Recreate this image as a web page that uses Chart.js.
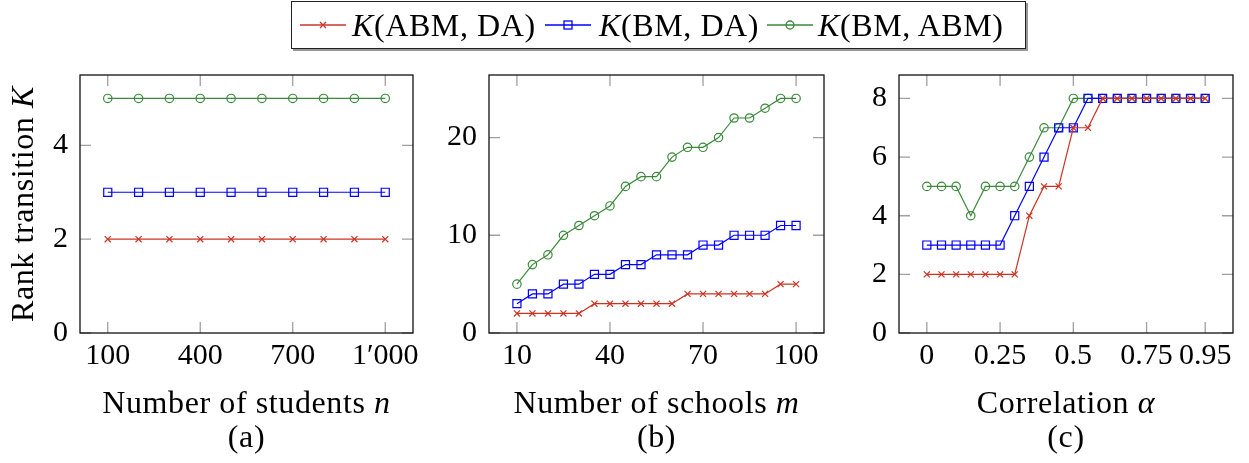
<!DOCTYPE html>
<html><head><meta charset="utf-8">
<script src="https://cdn.jsdelivr.net/npm/chart.js@4.4.0/dist/chart.umd.min.js"></script>
<style>
html,body{margin:0;padding:0;background:#fff;}
#wrap{position:relative;width:1249px;height:463px;overflow:hidden;background:#fff;}
canvas{position:absolute;top:0;}
#legend{position:absolute;left:291px;top:1px;width:733px;height:46px;border:1px solid #222;box-shadow:2px 2px 0 #999;background:#fff;font-family:"Liberation Serif",serif;font-size:32px;letter-spacing:0.6px;color:#000;}
.smp{position:absolute;top:11px;}
.txt{position:absolute;top:0;height:46px;line-height:46px;white-space:nowrap;}
</style></head>
<body>
<div id="wrap">
<canvas id="cA" width="420" height="463" style="left:0px"></canvas>
<canvas id="cB" width="420" height="463" style="left:420px"></canvas>
<canvas id="cC" width="409" height="463" style="left:840px"></canvas>
<div id="legend">
  <svg class="smp" style="left:8px" width="46" height="24"><line x1="0" y1="12" x2="46" y2="12" stroke="#c8382a" stroke-width="1.3"/><path d="M20 9 L26 15 M26 9 L20 15" stroke="#c8382a" stroke-width="1.3"/></svg>
  <span class="txt" style="left:60px"><i>K</i>(ABM, DA)</span>
  <svg class="smp" style="left:253px" width="46" height="24"><line x1="0" y1="12" x2="46" y2="12" stroke="#0000ff" stroke-width="1.3"/><rect x="19" y="8" width="8" height="8" fill="none" stroke="#0000ff" stroke-width="1.3"/></svg>
  <span class="txt" style="left:307px"><i>K</i>(BM, DA)</span>
  <svg class="smp" style="left:475px" width="46" height="24"><line x1="0" y1="12" x2="46" y2="12" stroke="#3a8a3a" stroke-width="1.3"/><circle cx="23" cy="12" r="4" fill="none" stroke="#3a8a3a" stroke-width="1.3"/></svg>
  <span class="txt" style="left:526px"><i>K</i>(BM, ABM)</span>
</div>
</div>
<script>
// ---- data ----
const seriesNames = ['K(ABM, DA)', 'K(BM, DA)', 'K(BM, ABM)'];
const seriesColors = ['#cc3322', '#0000ff', '#3a8a3a'];

const nStudents = [100, 200, 300, 400, 500, 600, 700, 800, 900, 1000];
const a_ABM_DA = [2, 2, 2, 2, 2, 2, 2, 2, 2, 2];
const a_BM_DA  = [3, 3, 3, 3, 3, 3, 3, 3, 3, 3];
const a_BM_ABM = [5, 5, 5, 5, 5, 5, 5, 5, 5, 5];

const mSchools = [10, 15, 20, 25, 30, 35, 40, 45, 50, 55, 60, 65, 70, 75, 80, 85, 90, 95, 100];
const b_ABM_DA = [2, 2, 2, 2, 2, 3, 3, 3, 3, 3, 3, 4, 4, 4, 4, 4, 4, 5, 5];
const b_BM_DA  = [3, 4, 4, 5, 5, 6, 6, 7, 7, 8, 8, 8, 9, 9, 10, 10, 10, 11, 11];
const b_BM_ABM = [5, 7, 8, 10, 11, 12, 13, 15, 16, 16, 18, 19, 19, 20, 22, 22, 23, 24, 24];

const alphaVals = [0, 0.05, 0.1, 0.15, 0.2, 0.25, 0.3, 0.35, 0.4, 0.45, 0.5, 0.55, 0.6, 0.65, 0.7, 0.75, 0.8, 0.85, 0.9, 0.95];
const c_ABM_DA = [2, 2, 2, 2, 2, 2, 2, 4, 5, 5, 7, 7, 8, 8, 8, 8, 8, 8, 8, 8];
const c_BM_DA  = [3, 3, 3, 3, 3, 3, 4, 5, 6, 7, 7, 8, 8, 8, 8, 8, 8, 8, 8, 8];
const c_BM_ABM = [5, 5, 5, 4, 5, 5, 5, 6, 7, 7, 8, 8, 8, 8, 8, 8, 8, 8, 8, 8];

const xTicksA = [100, 400, 700, 1000];
const xTickLabelsA = ['100', '400', '700', '1\u2032000'];
const yTicksA = [0, 2, 4];
const xTicksB = [10, 40, 70, 100];
const xTickLabelsB = ['10', '40', '70', '100'];
const yTicksB = [0, 10, 20];
const xTicksC = [0, 0.25, 0.5, 0.75, 0.95];
const xTickLabelsC = ['0', '0.25', '0.5', '0.75', '0.95'];
const yTicksC = [0, 2, 4, 6, 8];

// ---- drawing helpers ----
const FAM = '"Liberation Serif", serif';
const FS = 30;      // tick labels
const TS = 32;      // titles
function richText(ctx, segs, cx, baseY, size) {
  ctx.letterSpacing = '0.6px';
  let total = 0;
  segs.forEach(s => { ctx.font = (s[1] ? 'italic ' : '') + size + 'px ' + FAM; s.w = ctx.measureText(s[0]).width; total += s.w; });
  let x = cx - total / 2;
  ctx.textBaseline = 'alphabetic';
  ctx.textAlign = 'left';
  ctx.fillStyle = '#000';
  segs.forEach(s => { ctx.font = (s[1] ? 'italic ' : '') + size + 'px ' + FAM; ctx.fillText(s[0], x, baseY); x += s.w; });
  ctx.letterSpacing = '0px';
}

const framePlugin = {
  id: 'frame',
  beforeDatasetsDraw(chart) {
    const ctx = chart.ctx, a = chart.chartArea, cfg = chart.options.plugins.frame;
    const xs = chart.scales.x, ys = chart.scales.y;
    ctx.save();
    ctx.strokeStyle = '#a0a0a0';
    ctx.lineWidth = 1.3;
    const L = 11;
    ctx.beginPath();
    cfg.xTicks.forEach(v => {
      const px = xs.getPixelForValue(v);
      ctx.moveTo(px, a.bottom); ctx.lineTo(px, a.bottom - L);
      ctx.moveTo(px, a.top); ctx.lineTo(px, a.top + L);
    });
    cfg.yTicks.forEach(v => {
      const py = ys.getPixelForValue(v);
      ctx.moveTo(a.left, py); ctx.lineTo(a.left + L, py);
      ctx.moveTo(a.right, py); ctx.lineTo(a.right - L, py);
    });
    ctx.stroke();
    ctx.restore();
  },
  afterDraw(chart) {
    const ctx = chart.ctx, a = chart.chartArea, cfg = chart.options.plugins.frame;
    ctx.save();
    ctx.strokeStyle = '#111';
    ctx.lineWidth = 1.3;
    ctx.strokeRect(a.left, a.top, a.right - a.left, a.bottom - a.top);
    const cx = (a.left + a.right) / 2;
    richText(ctx, cfg.xTitle, cx, 413, TS);
    richText(ctx, [[cfg.caption, false]], cx, 447, TS);
    if (cfg.yTitle) {
      ctx.save();
      ctx.translate(33, (a.top + a.bottom) / 2);
      ctx.rotate(-Math.PI / 2);
      richText(ctx, cfg.yTitle, 0, 0, TS);
      ctx.restore();
    }
    ctx.restore();
  }
};

function makeChart(id, xs, ys3, o) {
  const styles = [
    { pointStyle: 'crossRot', pointRadius: 4.3 },
    { pointStyle: 'rect', pointRadius: 5.7 },
    { pointStyle: 'circle', pointRadius: 4.2 }
  ];
  const datasets = ys3.map((ys, i) => ({
    label: seriesNames[i],
    data: xs.map((x, j) => ({ x: x, y: ys[j] })),
    borderColor: seriesColors[i],
    backgroundColor: seriesColors[i],
    pointBorderColor: seriesColors[i],
    pointBackgroundColor: 'rgba(0,0,0,0)',
    borderWidth: 1.2,
    pointBorderWidth: 1.2,
    pointStyle: styles[i].pointStyle,
    pointRadius: styles[i].pointRadius,
    tension: 0,
    fill: false
  }));
  const tickFont = { family: FAM, size: FS };
  return new Chart(document.getElementById(id), {
    type: 'line',
    data: { datasets },
    options: {
      responsive: false,
      animation: false,
      events: [],
      layout: { padding: { top: 75, right: o.padR, left: 0, bottom: 0 } },
      plugins: {
        legend: { display: false },
        tooltip: { enabled: false },
        frame: { xTicks: o.xTicks, yTicks: o.yTicks, xTitle: o.xTitle, yTitle: o.yTitle, caption: o.caption }
      },
      scales: {
        x: {
          type: 'linear', min: o.xMin, max: o.xMax,
          grid: { display: false, drawTicks: false },
          border: { display: false },
          ticks: {
            font: tickFont, color: '#000', padding: 5, maxRotation: 0, minRotation: 0, autoSkip: false,
            callback: (v) => { const k = o.xTicks.indexOf(v); return k >= 0 ? o.xLabels[k] : ''; }
          },
          afterBuildTicks: s => { s.ticks = o.xTicks.map(v => ({ value: v })); },
          afterFit: s => { s.height = 130; s.paddingLeft = 0; s.paddingRight = 0; }
        },
        y: {
          type: 'linear', min: 0, max: o.yMax,
          grid: { display: false, drawTicks: false },
          border: { display: false },
          ticks: { font: tickFont, color: '#000', padding: 12, autoSkip: false },
          afterBuildTicks: s => { s.ticks = o.yTicks.map(v => ({ value: v })); },
          afterFit: s => { s.width = o.left; s.paddingTop = 0; s.paddingBottom = 0; }
        }
      }
    },
    plugins: [framePlugin]
  });
}

makeChart('cA', nStudents, [a_ABM_DA, a_BM_DA, a_BM_ABM], {
  left: 80, padR: 7, xMin: 10, xMax: 1090, yMax: 5.5,
  xTicks: xTicksA, xLabels: xTickLabelsA, yTicks: yTicksA,
  xTitle: [['Number of students ', false], ['n', true]],
  yTitle: [['Rank transition ', false], ['K', true]],
  caption: '(a)'
});
makeChart('cB', mSchools, [b_ABM_DA, b_BM_DA, b_BM_ABM], {
  left: 69, padR: 16, xMin: 1, xMax: 109, yMax: 26.4,
  xTicks: xTicksB, xLabels: xTickLabelsB, yTicks: yTicksB,
  xTitle: [['Number of schools ', false], ['m', true]],
  yTitle: null,
  caption: '(b)'
});
makeChart('cC', alphaVals, [c_ABM_DA, c_BM_DA, c_BM_ABM], {
  left: 59, padR: 16, xMin: -0.095, xMax: 1.045, yMax: 8.8,
  xTicks: xTicksC, xLabels: xTickLabelsC, yTicks: yTicksC,
  xTitle: [['Correlation ', false], ['\u03b1', true]],
  yTitle: null,
  caption: '(c)'
});
</script>
</body></html>
